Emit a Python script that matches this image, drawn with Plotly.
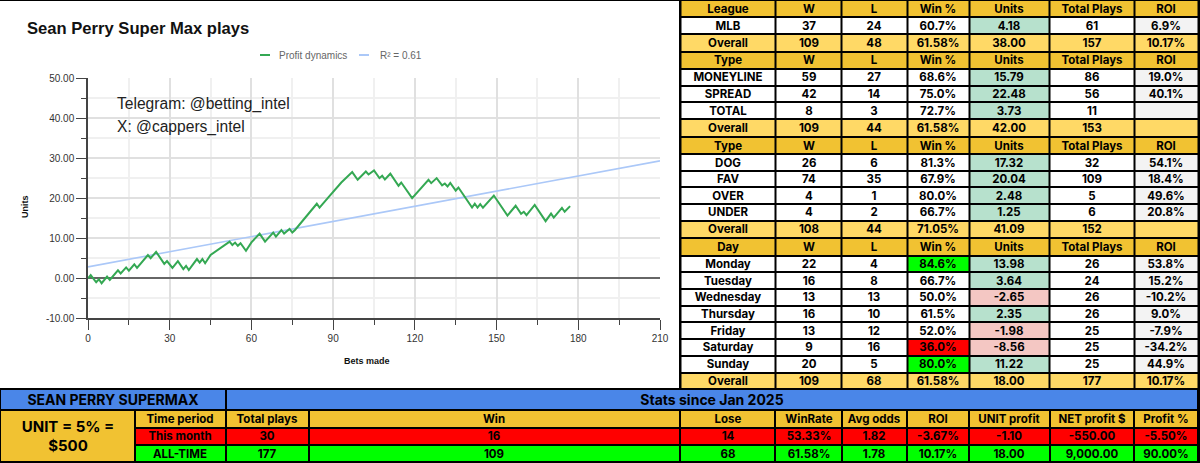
import plotly.graph_objects as go

W, H = 1200, 463

bets = [0, 1, 3, 4, 5, 7, 8, 11, 12, 14, 15, 17, 18, 22, 23, 25, 28, 29, 31, 33, 35, 36, 37, 40, 41, 42, 43, 45,
        52, 53, 54, 55, 56, 58, 60, 63, 65, 68, 69, 71, 72, 74, 75, 76, 84, 85, 88, 93, 97, 99, 102, 103, 105,
        107, 108, 109, 111, 114, 115, 119, 125, 126, 128, 130, 131, 132, 133, 135, 136, 141, 142, 143, 144,
        145, 149, 154, 157, 159, 160, 161, 164, 168, 170, 171, 174, 175, 177]
units = [0, 0.8, -1.0, -0.25, -1.25, 0.4, -0.4, 2.0, 1.2, 2.7, 1.9, 3.5, 2.6, 5.8, 5.0, 6.6, 3.6, 4.3, 2.6, 4.25,
         2.3, 3.1, 2.05, 4.8, 3.9, 4.8, 3.75, 5.8, 9.15, 8.3, 8.9, 8.1, 8.75, 6.85, 8.95, 11.15, 9.15, 11.4,
         10.4, 12.05, 11.15, 12.3, 11.4, 12.05, 18.6, 17.65, 20.0, 23.9, 26.5, 24.6, 26.65, 25.9, 26.9, 25.0,
         25.6, 24.65, 26.1, 23.1, 23.9, 20.0, 24.6, 23.75, 25.0, 23.2, 23.65, 22.9, 23.8, 21.9, 22.65, 17.65,
         18.6, 17.65, 18.5, 17.6, 20.65, 15.65, 18.1, 16.1, 16.6, 15.75, 18.3, 14.25, 16.15, 15.15, 17.55,
         16.6, 18.0]
trend_x = [0, 210]
trend_y = [2.85, 29.3]

x_ticks = [0, 30, 60, 90, 120, 150, 180, 210]
y_ticks = [-10, 0, 10, 20, 30, 40, 50]
y_labels = ["-10.00", "0.00", "10.00", "20.00", "30.00", "40.00", "50.00"]

# right hand tables
stat_cols = ["W", "L", "Win %", "Units", "Total Plays", "ROI"]

league_head = "League"
league_names = ["MLB", "Overall"]
league_w = [37, 109]
league_l = [24, 48]
league_pct = ["60.7%", "61.58%"]
league_units = ["4.18", "38.00"]
league_plays = [61, 157]
league_roi = ["6.9%", "10.17%"]

bet_head = "Type"
bet_names = ["MONEYLINE", "SPREAD", "TOTAL", "Overall"]
bet_w = [59, 42, 8, 109]
bet_l = [27, 14, 3, 44]
bet_pct = ["68.6%", "75.0%", "72.7%", "61.58%"]
bet_units = ["15.79", "22.48", "3.73", "42.00"]
bet_plays = [86, 56, 11, 153]
bet_roi = ["19.0%", "40.1%", "", ""]

side_head = "Type"
side_names = ["DOG", "FAV", "OVER", "UNDER", "Overall"]
side_w = [26, 74, 4, 4, 108]
side_l = [6, 35, 1, 2, 44]
side_pct = ["81.3%", "67.9%", "80.0%", "66.7%", "71.05%"]
side_units = ["17.32", "20.04", "2.48", "1.25", "41.09"]
side_plays = [32, 109, 5, 6, 152]
side_roi = ["54.1%", "18.4%", "49.6%", "20.8%", ""]

day_head = "Day"
day_names = ["Monday", "Tuesday", "Wednesday", "Thursday", "Friday", "Saturday", "Sunday", "Overall"]
day_w = [22, 16, 13, 16, 13, 9, 20, 109]
day_l = [4, 8, 13, 10, 12, 16, 5, 68]
day_pct = ["84.6%", "66.7%", "50.0%", "61.5%", "52.0%", "36.0%", "80.0%", "61.58%"]
day_units = ["13.98", "3.64", "-2.65", "2.35", "-1.98", "-8.56", "11.22", "18.00"]
day_plays = [26, 24, 26, 26, 25, 25, 25, 177]
day_roi = ["53.8%", "15.2%", "-10.2%", "9.0%", "-7.9%", "-34.2%", "44.9%", "10.17%"]

# bottom table
summary_cols = ["Time period", "Total plays", "Win", "Lose", "WinRate", "Avg odds", "ROI",
                "UNIT profit", "NET profit $", "Profit %"]
this_month = ["This month", 30, 16, 14, "53.33%", "1.82", "-3.67%", "-1.10", "-550.00", "-5.50%"]
all_time = ["ALL-TIME", 177, 109, 68, "61.58%", "1.78", "10.17%", "18.00", "9,000.00", "90.00%"]

# cell colours, a heatmap cell holds the index of its colour
PALETTE = ["white", "#f1c232", "#ffd966", "#b7e1cd", "#f4c7c3", "#f3f3f3", "#00ff00", "#ff0000", "#4a86e8"]
WHITE, HEAD, TOTAL, GREEN, RED, GREY, LIME, SCARLET, BLUE = range(9)
SCALE = [[i / (len(PALETTE) - 1), c] for i, c in enumerate(PALETTE)]
FONT = "Inter"

# cell edges of the tables, in picture pixels
stat_x = [680.5, 775.4, 841.7, 907, 969, 1049.6, 1134, 1198]
stat_y = [0, 17.4, 34.2, 51.7, 68.9, 85.5, 102.4, 119.4, 137, 154.3, 170.8, 187.4, 203.9, 220.7, 238.2, 255.5,
          272.4, 289, 305.5, 322.4, 338.9, 355.5, 372.5, 389]
summary_x = [135, 225.5, 309, 679.7, 775.4, 841.7, 907, 969, 1049.6, 1134, 1198]
summary_y = [410, 427.5, 445, 462]


def cell_table(x_edges, y_edges, z, text, size=11.5):
    return go.Heatmap(
        x=x_edges, y=y_edges, z=z, text=text, texttemplate="<b>%{text}</b>",
        textfont=dict(family=FONT, size=size, color="black"),
        colorscale=SCALE, zmin=0, zmax=len(PALETTE) - 1, showscale=False,
        xgap=2, ygap=2, hoverinfo="skip", xaxis="x2", yaxis="y2",
    )


def stat_rows(head, names, wins, losses, pct, profit, plays, roi):
    text = [[head] + stat_cols]
    z = [[HEAD] * 7]
    for i in range(len(names)):
        text.append([names[i], wins[i], losses[i], pct[i], profit[i], plays[i], roi[i]])
        if i == len(names) - 1:
            z.append([TOTAL] * 7)
            continue
        pct_fill = WHITE
        if head == "Day" and float(pct[i][:-1]) >= 80:
            pct_fill = LIME
        if head == "Day" and float(pct[i][:-1]) <= 40:
            pct_fill = SCARLET
        z.append([WHITE, WHITE, WHITE, pct_fill, RED if profit[i].startswith("-") else GREEN, WHITE, GREY])
    return text, z


stat_text, stat_z = [], []
for block in [(league_head, league_names, league_w, league_l, league_pct, league_units, league_plays, league_roi),
              (bet_head, bet_names, bet_w, bet_l, bet_pct, bet_units, bet_plays, bet_roi),
              (side_head, side_names, side_w, side_l, side_pct, side_units, side_plays, side_roi),
              (day_head, day_names, day_w, day_l, day_pct, day_units, day_plays, day_roi)]:
    t, c = stat_rows(*block)
    stat_text += t
    stat_z += c

fig = go.Figure()

fig.add_trace(go.Scatter(x=trend_x, y=trend_y, mode="lines", name="R² = 0.61",
                         line=dict(color="#abc8f8", width=1.6), showlegend=False))
fig.add_trace(go.Scatter(x=bets, y=units, mode="lines", name="Profit dynamics",
                         line=dict(color="#34a853", width=2), showlegend=False))

fig.add_trace(cell_table(stat_x, stat_y, stat_z, stat_text))
fig.add_trace(cell_table(summary_x, summary_y,
                         [[HEAD] * 10, [SCARLET] * 10, [LIME] * 10],
                         [summary_cols, this_month, all_time]))
# merged cells of the bottom table
fig.add_trace(cell_table([0, 226, 1198], [389, 410], [[BLUE, BLUE]],
                         [["SEAN PERRY SUPERMAX", "Stats since Jan 2025"]], size=14))
fig.add_trace(cell_table([0, 135], [410, 462], [[HEAD]], [["UNIT = 5% =<br>$500"]], size=15))


def px_x(p):
    return p / W


def px_y(p):
    return 1 - p / H


annotations = [
    dict(text="<b>Sean Perry Super Max plays</b>", x=px_x(25), y=px_y(28), xanchor="left",
         font=dict(family="Liberation Sans", size=16.6, color="#111")),
    dict(text="Telegram: @betting_intel", x=px_x(115), y=px_y(104), xanchor="left",
         font=dict(family="Liberation Sans", size=15.6, color="#222")),
    dict(text="X: @cappers_intel", x=px_x(115), y=px_y(127), xanchor="left",
         font=dict(family="Liberation Sans", size=15.6, color="#222")),
    dict(text="Profit dynamics", x=px_x(277), y=px_y(55), xanchor="left",
         font=dict(family="Liberation Sans", size=10, color="#666")),
    dict(text="R² = 0.61", x=px_x(378), y=px_y(55), xanchor="left",
         font=dict(family="Liberation Sans", size=10, color="#666")),
    dict(text="<b>Bets made</b>", x=px_x(367), y=px_y(361), xanchor="center",
         font=dict(family="Liberation Sans", size=9, color="#111")),
    dict(text="<b>Units</b>", x=px_x(25), y=px_y(207), xanchor="center", textangle=-90,
         font=dict(family="Liberation Sans", size=9, color="#111")),
]
for a in annotations:
    a.update(xref="paper", yref="paper", showarrow=False, yanchor="middle")

shapes = [
    # black behind the tables
    dict(type="rect", xref="x2", yref="y2", x0=679, x1=1200, y0=0, y1=388, fillcolor="black", line_width=0),
    dict(type="rect", xref="x2", yref="y2", x0=0, x1=1200, y0=388, y1=463, fillcolor="black", line_width=0),
    dict(type="rect", xref="x2", yref="y2", x0=0, x1=679, y0=0, y1=1, fillcolor="black", line_width=0),
    # legend swatches
    dict(type="rect", xref="paper", yref="paper", x0=px_x(260), x1=px_x(270), y0=px_y(56), y1=px_y(54),
         fillcolor="#34a853", line_width=0),
    dict(type="rect", xref="paper", yref="paper", x0=px_x(359), x1=px_x(369), y0=px_y(56), y1=px_y(54),
         fillcolor="#abc8f8", line_width=0),
]
for s in shapes:
    s.update(layer="below")

fig.update_layout(
    width=W,
    height=H,
    margin=dict(l=0, r=0, t=0, b=0, autoexpand=False),
    paper_bgcolor="white",
    plot_bgcolor="rgba(0,0,0,0)",
    annotations=annotations,
    shapes=shapes,
    font=dict(family="Liberation Sans", color="#333", size=10),
    xaxis=dict(
        domain=[px_x(88), px_x(660)],
        range=[0, 210],
        tickvals=x_ticks,
        ticks="outside",
        ticklen=10,
        tickcolor="#444",
        gridcolor="#e0e0e0",
        gridwidth=1.5,
        showline=True,
        linecolor="#444",
        linewidth=1.5,
        zeroline=False,
        minor=dict(dtick=15, ticks="outside", ticklen=5, tickcolor="#444", showgrid=True,
                   gridcolor="#f0f0f0", gridwidth=1.5),
        tickfont=dict(size=10, color="#333"),
    ),
    yaxis=dict(
        domain=[px_y(318.3), px_y(78)],
        range=[-10, 50],
        tickvals=y_ticks,
        ticktext=y_labels,
        ticks="outside",
        ticklen=10,
        tickcolor="#444",
        gridcolor="#e0e0e0",
        gridwidth=1.5,
        showline=True,
        linecolor="#444",
        linewidth=1.5,
        zeroline=True,
        zerolinecolor="#666",
        zerolinewidth=1.5,
        minor=dict(dtick=5, ticks="outside", ticklen=5, tickcolor="#444", showgrid=True,
                   gridcolor="#f0f0f0", gridwidth=1.5),
        tickfont=dict(size=10, color="#333"),
    ),
    # axes of the table cells, they run over the whole picture in pixels
    xaxis2=dict(domain=[0, 1], range=[0, W], visible=False, fixedrange=True, anchor="y2"),
    yaxis2=dict(domain=[0, 1], range=[H, 0], visible=False, fixedrange=True, anchor="x2"),
)

# the browser's default page margin would push the figure off the window
fig.write_html(
    "out.html",
    config=dict(displayModeBar=False),
    post_script="var g = document.getElementById('{plot_id}');"
                "document.body.style.margin = '0';"
                "g.style.position = 'absolute'; g.style.left = '0'; g.style.top = '0';",
)
